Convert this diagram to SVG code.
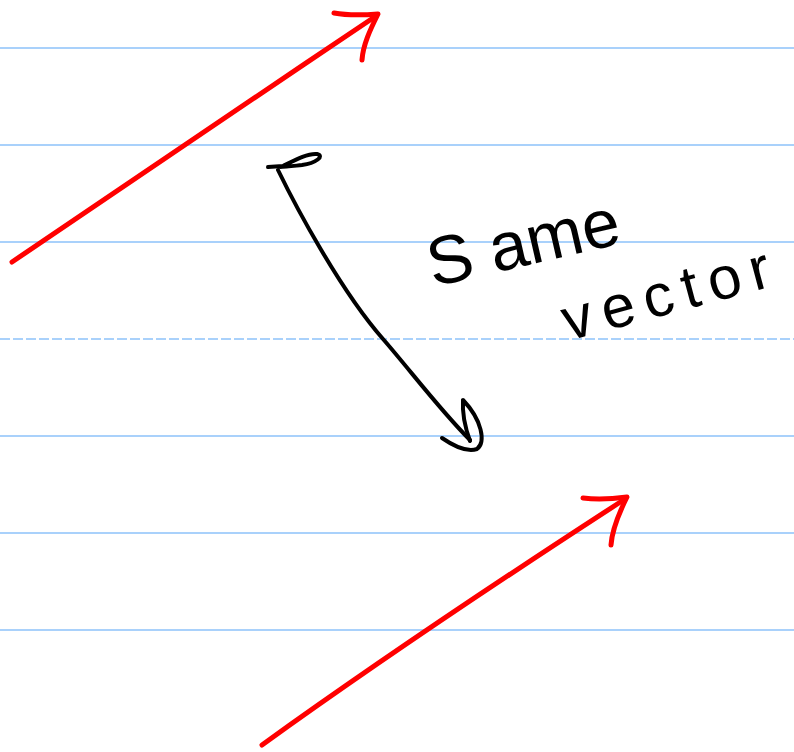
<svg xmlns="http://www.w3.org/2000/svg" width="794" height="752" viewBox="0 0 794 752">
<style>
.rule{stroke:#a9d1fb;stroke-width:2;fill:none}
.red{stroke:#ff0000;stroke-width:5;fill:none;stroke-linecap:round;stroke-linejoin:round}
.ink{stroke:#000;stroke-width:4;fill:none;stroke-linecap:round;stroke-linejoin:round}
.hand{font-family:"Liberation Sans","DejaVu Sans",sans-serif;fill:#000}
</style>
<rect width="794" height="752" fill="#fff"/>
<g id="paper">
<line class="rule" x1="0" y1="48" x2="794" y2="48"/>
<line class="rule" x1="0" y1="145" x2="794" y2="145"/>
<line class="rule" x1="0" y1="242" x2="794" y2="242"/>
<line class="rule" x1="0" y1="339" x2="794" y2="339" stroke-dasharray="10 3"/>
<line class="rule" x1="0" y1="436" x2="794" y2="436"/>
<line class="rule" x1="0" y1="533" x2="794" y2="533"/>
<line class="rule" x1="0" y1="630" x2="794" y2="630"/>
</g>
<g id="top-red-arrow">
<path class="red" d="M12,262 C120,190 250,100 376,16"/>
<path class="red" d="M334,13 C350,16 365,15 378,14 C370,30 363,45 362,60"/>
</g>
<g id="bottom-red-arrow">
<path class="red" d="M262,745 C380,660 500,580 625,499"/>
<path class="red" d="M583,498 C598,500 612,499 627,497 C618,515 612,530 611,545"/>
</g>
<g id="black-arrow">
<path class="ink" d="M268,167 L283,166 C295,160 308,153 317,154 C325,156 316,163 302,165 C293,166 286,167 280,167"/>
<path class="ink" d="M278,170 C295,205 340,290 383,339 C410,370 440,410 470,440"/>
<path class="ink" d="M442,438 C455,447 468,452 477,449 C486,442 482,420 463,400 C462,415 466,430 470,441"/>
</g>
<g id="label">
<text class="hand" font-size="68" transform="translate(433,287) rotate(-13)">S<tspan dx="18">ame</tspan></text>
<text class="hand" font-size="60" letter-spacing="10" transform="translate(568,341) rotate(-15)">vector</text>
</g>
</svg>
